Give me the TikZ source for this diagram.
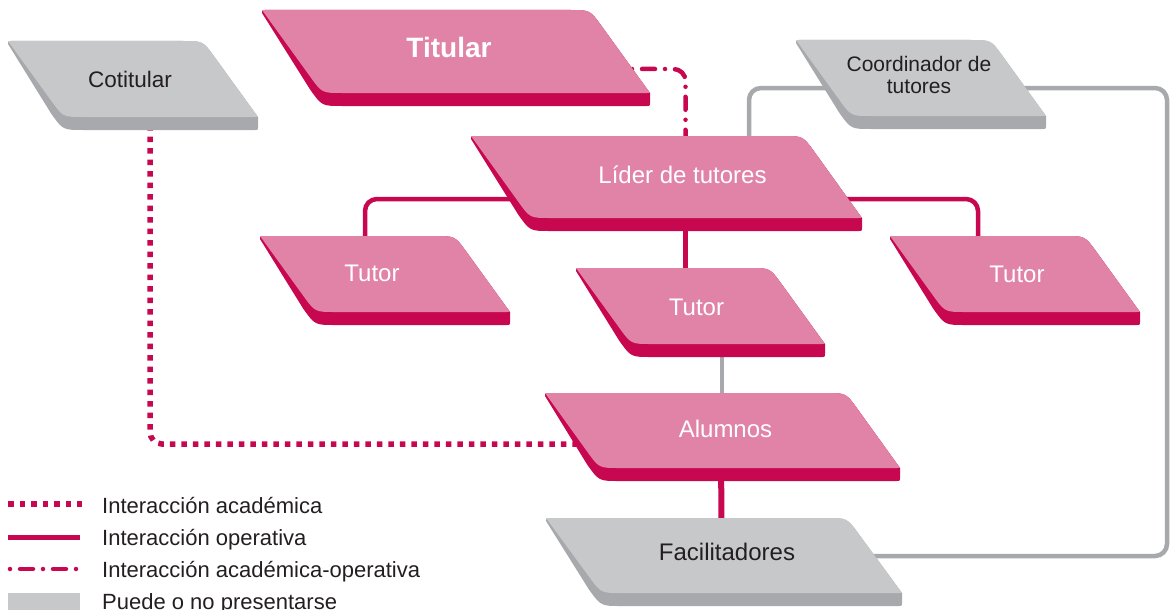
\documentclass[tikz,border=0pt]{standalone}
\usepackage{fontspec}
\setmainfont{Liberation Sans}
\usetikzlibrary{calc}
\definecolor{pinkface}{HTML}{E083A7}
\definecolor{pinkdark}{HTML}{C7074F}
\definecolor{grayface}{HTML}{C7C8CA}
\definecolor{graydark}{HTML}{A7A9AC}
\definecolor{txt}{HTML}{231F20}
\pgfdeclarelayer{bg}
\pgfsetlayers{bg,main}
\def\dep{13}
\def\rl{20pt}
\tikzset{
 pinktext/.style={text=white, font=\fontsize{24}{28}\selectfont, inner sep=0pt, align=center},
 graytext/.style={text=txt, font=\fontsize{22.5}{24}\selectfont, inner sep=0pt, align=center},
 opline/.style={draw=pinkdark, line width=4.5pt, rounded corners=12pt},
 acline/.style={draw=pinkdark, line width=5.5pt, dash pattern=on 5.5pt off 6pt, rounded corners=12pt},
 aoline/.style={draw=pinkdark, line width=4.5pt, line cap=round, dash pattern=on 0pt off 10pt on 13pt off 10pt, rounded corners=12pt},
 optline/.style={draw=graydark, line width=4.5pt, rounded corners=12pt},
 legtext/.style={anchor=base west, text=txt, font=\fontsize{22}{24}\selectfont, inner sep=0pt},
}
% #1 name, #2 x0, #3 y0, #4 w, #5 h, #6 slant, #7 kind, #8 node options, #9 text
\newcommand\pbox[9]{%
 \coordinate (#1-A) at (#2,#3);
 \coordinate (#1-B) at ({#2+#4},#3);
 \coordinate (#1-C) at ({#2+#4+#6},{#3+#5});
 \coordinate (#1-D) at ({#2+#6},{#3+#5});
 \coordinate (#1-a) at (#2,{#3+\dep});
 \coordinate (#1-c) at ({#2+#4+#6},{#3+#5+\dep});
 \coordinate (#1-d) at ({#2+#6},{#3+#5+\dep});
 \fill[#7dark] ($(#1-A)!3pt!(#1-a)$) .. controls (#1-A) .. ($(#1-A)!3pt!(#1-B)$)
   -- ($(#1-B)!\rl!(#1-A)$) .. controls (#1-B) .. ($(#1-B)!\rl!(#1-C)$)
   -- (#1-C) -- ($(#1-c)!3pt!(#1-C)$) .. controls (#1-c) .. ($(#1-c)!3pt!(#1-d)$)
   -- ($(#1-d)!\rl!(#1-c)$) .. controls (#1-d) .. ($(#1-d)!\rl!(#1-a)$) -- cycle;
 \fill[#7face] ($(#1-A)!3pt!(#1-D)$) .. controls (#1-A) .. ($(#1-A)!3pt!(#1-B)$)
   -- ($(#1-B)!\rl!(#1-A)$) .. controls (#1-B) .. ($(#1-B)!\rl!(#1-C)$)
   -- ($(#1-C)!3pt!(#1-B)$) .. controls (#1-C) .. ($(#1-C)!3pt!(#1-D)$)
   -- ($(#1-D)!\rl!(#1-C)$) .. controls (#1-D) .. ($(#1-D)!\rl!(#1-A)$) -- cycle;
 \node[#7text, #8] (#1) at ($(#1-A)!0.5!(#1-C)$) {#9};
}
\begin{document}
\begin{tikzpicture}[x=1pt, y=-1pt]
\useasboundingbox (0,0) rectangle (1170,610);
% boxes
\pbox{tit}{262}{10}{328}{83}{60}{pink}{xshift=-7pt, yshift=4pt, font=\bfseries\fontsize{28}{30}\selectfont}{Titular}
\pbox{cot}{8}{41}{195}{76}{55}{gray}{xshift=-3pt}{Cotitular}
\pbox{lid}{471}{136}{332}{82}{59}{pink}{xshift=16pt, yshift=2pt}{Líder de tutores}
\pbox{coo}{796}{40}{195}{76}{55}{gray}{xshift=-2pt, yshift=3pt, font=\fontsize{21}{22}\selectfont}{Coordinador de\\tutores}
\pbox{tl}{260}{236}{195}{76}{55}{pink}{xshift=-13pt, yshift=1pt}{Tutor}
\pbox{tm}{576}{268}{194}{76}{55}{pink}{xshift=-4pt, yshift=-1pt}{Tutor}
\pbox{tr}{890}{236}{195}{76}{55}{pink}{xshift=2pt}{Tutor}
\pbox{alu}{545}{393}{301}{75}{54}{pink}{xshift=3pt, yshift=1.5pt}{Alumnos}
\pbox{fac}{546}{518}{301}{75}{55}{gray}{xshift=3pt, yshift=3.5pt, font=\fontsize{24}{26}\selectfont}{Facilitadores}
\coordinate (rc) at (1167,556);
% connectors
\begin{pgfonlayer}{bg}
\draw[aoline] ($(tit)+(150,21.5)$) -| ($(lid)+(3,0)$);
\draw[opline] ($(lid)+(-90,24)$) -| ($(tl)+(-7,0)$);
\draw[opline] ($(lid)+(90,24)$) -| ($(tr)+(-39,0)$);
\draw[opline] ($(lid)+(3,0)$) -- ($(tm)+(-11,0)$);
\draw[optline] ($(tm)+(25.5,0)$) -- ($(alu)+(-3.5,0)$);
\draw[opline, line width=6pt] ($(alu)+(-4.5,0)$) -- ($(fac)+(-5.5,0)$);
\draw[acline] ($(cot)+(20,0)$) |- ($(alu)+(0,15)$);
\draw[optline] ($(lid)+(66.5,0)$) |- ($(coo)+(0,13)$);
\draw[optline] ($(coo)+(0,13)$) -| (rc) -- ($(fac)+(0,4)$);
\end{pgfonlayer}
% legend
\coordinate (l1a) at (8,504); \coordinate (l1b) at (82,504);
\coordinate (l2a) at (8,537); \coordinate (l2b) at (80,537);
\coordinate (l3a) at (10,569); \coordinate (l3b) at (76.5,569);
\draw[acline] (l1a) -- (l1b);
\draw[opline, line width=5pt] (l2a) -- (l2b);
\draw[aoline] (l3a) -- (l3b);
\fill[grayface] (8,593) rectangle (80,615);
\node[legtext] (lt1) at (102,513) {Interacción académica};
\node[legtext] (lt2) at (102,545) {Interacción operativa};
\node[legtext] (lt3) at (102,577) {Interacción académica-operativa};
\node[legtext] (lt4) at (102,609) {Puede o no presentarse};
\end{tikzpicture}
\end{document}
